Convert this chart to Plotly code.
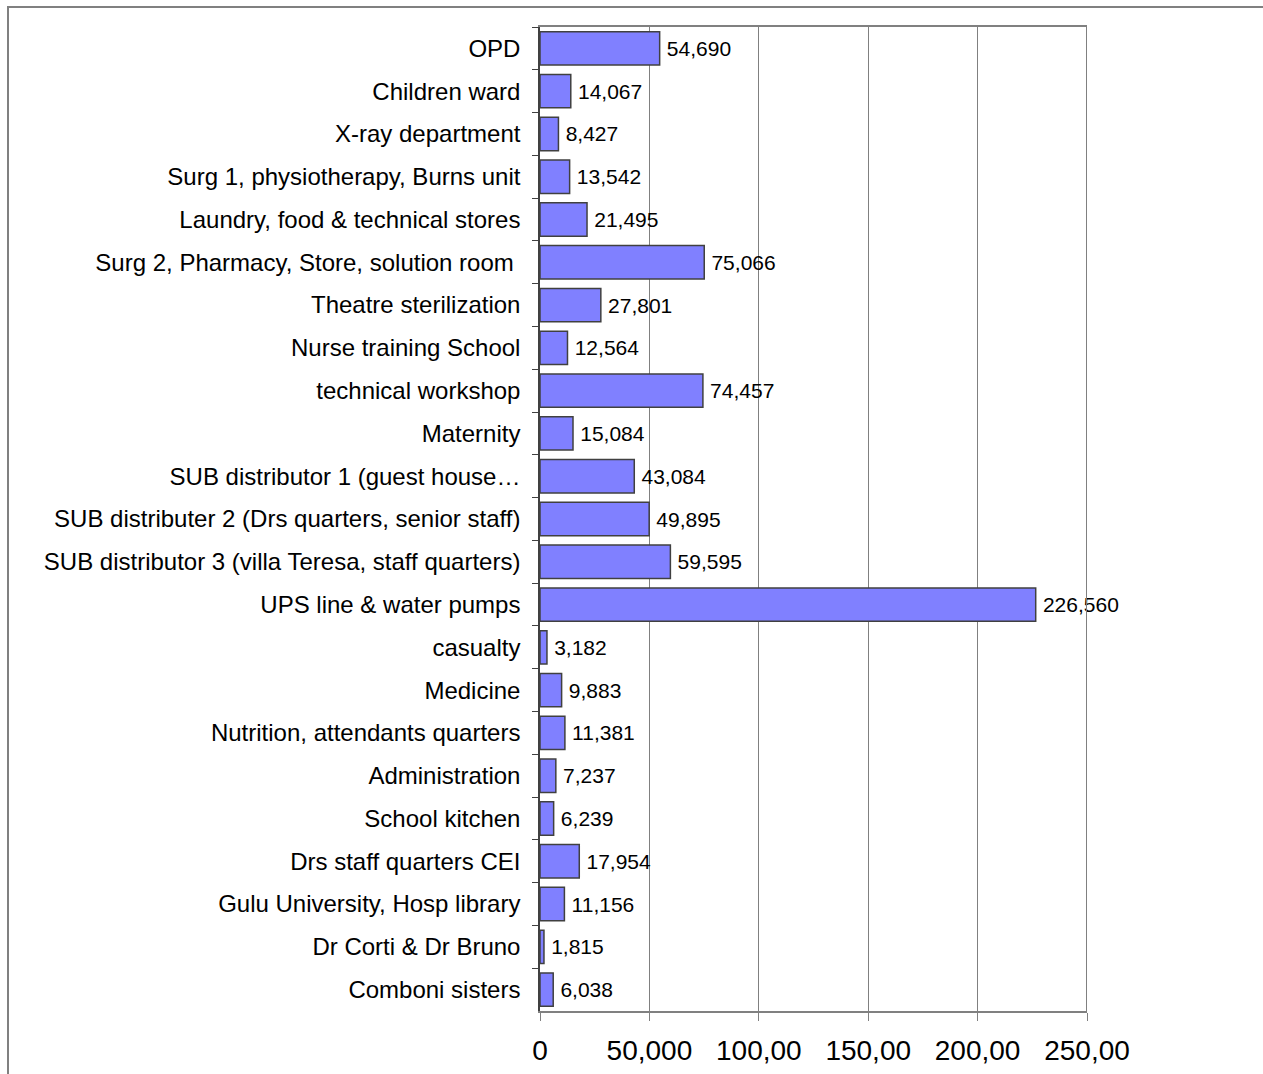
import plotly.graph_objects as go

# Electricity consumption per hospital section
sections = [
    "OPD",
    "Children ward",
    "X-ray department",
    "Surg 1, physiotherapy, Burns unit",
    "Laundry, food & technical stores",
    "Surg 2, Pharmacy, Store, solution room\u00a0",
    "Theatre sterilization",
    "Nurse training School",
    "technical workshop",
    "Maternity",
    "SUB distributor 1 (guest house\u2026",
    "SUB distributer 2 (Drs quarters, senior staff)",
    "SUB distributor 3 (villa Teresa, staff quarters)",
    "UPS line & water pumps",
    "casualty",
    "Medicine",
    "Nutrition, attendants quarters",
    "Administration",
    "School kitchen",
    "Drs staff quarters CEI",
    "Gulu University, Hosp library",
    "Dr Corti & Dr Bruno",
    "Comboni sisters",
]
consumption = [
    54690, 14067, 8427, 13542, 21495, 75066, 27801, 12564, 74457, 15084,
    43084, 49895, 59595, 226560, 3182, 9883, 11381, 7237, 6239, 17954,
    11156, 1815, 6038,
]
tick_values = [0, 50000, 100000, 150000, 200000, 250000]
tick_labels = ["0", "50,000", "100,00", "150,00", "200,00", "250,00"]

FONT = "Liberation Sans, Arial, sans-serif"

fig = go.Figure(
    go.Bar(
        y=sections,
        x=consumption,
        orientation="h",
        marker=dict(color="#8080FF", line=dict(color="#404040", width=1.5)),
        text=[f"\u2009{v:,}" for v in consumption],
        textposition="outside",
        textfont=dict(family=FONT, size=21, color="#000000"),
        constraintext="none",
        cliponaxis=False,
        width=0.78,
    )
)

fig.update_layout(
    width=1263,
    height=1074,
    margin=dict(l=540, r=176, t=27, b=63),
    paper_bgcolor="white",
    plot_bgcolor="white",
    showlegend=False,
    font=dict(family=FONT, color="#000000"),
    xaxis=dict(
        range=[0, 250000],
        tickvals=tick_values,
        ticktext=tick_labels,
        tickfont=dict(size=28),
        ticks="outside",
        ticklen=8,
        tickcolor="#808080",
        ticklabelstandoff=5,
        automargin=False,
        showgrid=True,
        gridcolor="#808080",
        gridwidth=1,
        showline=True,
        linecolor="#808080",
        linewidth=2,
        mirror=True,
        zeroline=False,
        fixedrange=True,
    ),
    yaxis=dict(
        categoryorder="array",
        categoryarray=sections,
        autorange="reversed",
        tickfont=dict(size=24),
        ticks="outside",
        ticklen=6,
        tickcolor="#404040",
        tickson="boundaries",
        ticklabelstandoff=13,
        automargin=False,
        showline=True,
        linecolor="#404040",
        linewidth=1.5,
        showgrid=False,
        zeroline=False,
        fixedrange=True,
    ),
)

# Right edge of the plotting area
fig.add_shape(
    type="line", xref="x", yref="paper",
    x0=250000, x1=250000, y0=0, y1=1,
    line=dict(color="#808080", width=2),
)

# Outer chart frame (runs off the right and bottom of the page)
fig.add_shape(
    type="rect", xref="paper", yref="paper",
    x0=(8 - 540) / 547, x1=(1275 - 540) / 547,
    y0=(1011 - 1090) / 984, y1=(1011 - 7) / 984,
    line=dict(color="#808080", width=2),
    fillcolor="rgba(0,0,0,0)",
    layer="below",
)

fig.write_html("out.html")
